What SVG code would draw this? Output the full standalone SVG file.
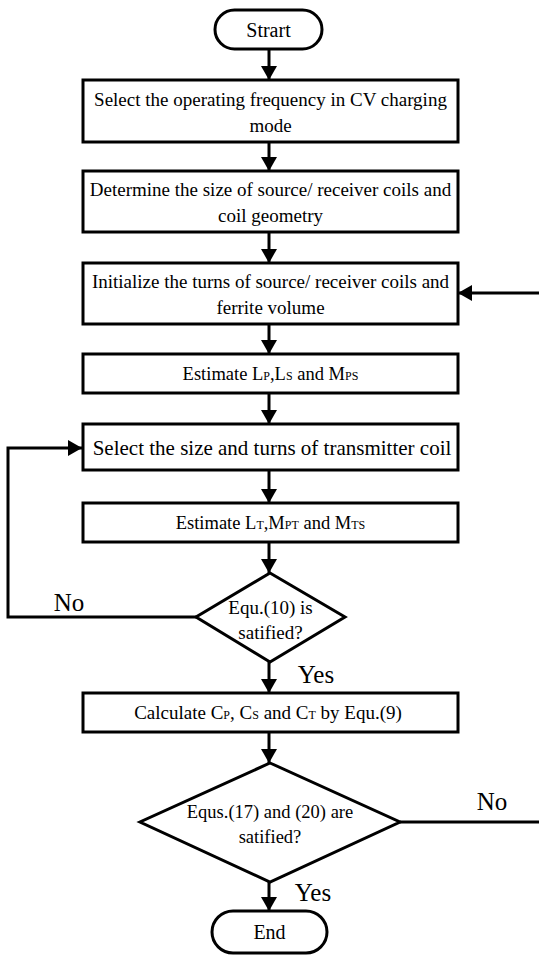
<svg xmlns="http://www.w3.org/2000/svg" width="539" height="956" viewBox="0 0 539 956">
<defs>
<marker id="ah" viewBox="0 0 14 16" refX="14" refY="8" markerWidth="14" markerHeight="16" markerUnits="userSpaceOnUse" orient="auto">
<path d="M0,0 L14,8 L0,16 Z" fill="#000"/>
</marker>
<style>
.b{fill:#fff;stroke:#000;stroke-width:3}
.c{fill:none;stroke:#000;stroke-width:3}
text{font-family:"Liberation Serif","Times New Roman",serif;fill:#000;text-anchor:middle}
.t19{font-size:19px}
.t18{font-size:18.5px}
.t20{font-size:20px}
.t21{font-size:21px}
.t25{font-size:25px}
.s{font-size:12px}
</style>
</defs>
<rect width="539" height="956" fill="#fff"/>
<g id="connectors">
<line class="c" x1="269" y1="49" x2="269" y2="80" marker-end="url(#ah)"/>
<line class="c" x1="269" y1="142" x2="269" y2="171" marker-end="url(#ah)"/>
<line class="c" x1="269" y1="232" x2="269" y2="263" marker-end="url(#ah)"/>
<line class="c" x1="539" y1="293" x2="458" y2="293" marker-end="url(#ah)"/>
<line class="c" x1="269" y1="324" x2="269" y2="354" marker-end="url(#ah)"/>
<line class="c" x1="269" y1="393" x2="269" y2="424" marker-end="url(#ah)"/>
<line class="c" x1="269" y1="470" x2="269" y2="503" marker-end="url(#ah)"/>
<line class="c" x1="269" y1="542" x2="269" y2="573" marker-end="url(#ah)"/>
<polyline class="c" points="196,617 8,617 8,448 82,448" marker-end="url(#ah)"/>
<line class="c" x1="269" y1="662" x2="269" y2="693" marker-end="url(#ah)"/>
<line class="c" x1="269" y1="732" x2="269" y2="763" marker-end="url(#ah)"/>
<line class="c" x1="400" y1="822" x2="539" y2="822"/>
<line class="c" x1="269" y1="882" x2="269" y2="911" marker-end="url(#ah)"/>
<text class="t25" x="69" y="611">No</text>
<text class="t25" x="316" y="683">Yes</text>
<text class="t25" x="492" y="810">No</text>
<text class="t25" x="313" y="901">Yes</text>
</g>
<g id="start">
<rect class="b" x="215" y="10" width="107" height="39" rx="19.5"/>
<text class="t20" x="268.5" y="36.5">Strart</text>
</g>
<g id="box1">
<rect class="b" x="83" y="80" width="375" height="62"/>
<text class="t19" x="270.5" y="106">Select the operating frequency in CV charging</text>
<text class="t19" x="270.5" y="132">mode</text>
</g>
<g id="box2">
<rect class="b" x="83" y="171" width="375" height="61"/>
<text class="t19" x="270.5" y="196">Determine the size of source/ receiver coils and</text>
<text class="t19" x="270.5" y="222">coil geometry</text>
</g>
<g id="box3">
<rect class="b" x="83" y="263" width="375" height="61"/>
<text class="t19" x="270.5" y="288">Initialize the turns of source/ receiver coils and</text>
<text class="t19" x="270.5" y="314">ferrite volume</text>
</g>
<g id="box4">
<rect class="b" x="83" y="354" width="375" height="39"/>
<text class="t18" x="270.5" y="380">Estimate L<tspan class="s">P</tspan>,L<tspan class="s">S</tspan> and M<tspan class="s">PS</tspan></text>
</g>
<g id="box5">
<rect class="b" x="83" y="424" width="375" height="46"/>
<text class="t21" x="272" y="455">Select the size and turns of transmitter coil</text>
</g>
<g id="box6">
<rect class="b" x="83" y="503" width="375" height="39"/>
<text class="t18" x="270.5" y="529">Estimate L<tspan class="s">T</tspan>,M<tspan class="s">PT</tspan> and M<tspan class="s">TS</tspan></text>
</g>
<g id="dec1">
<polygon class="b" points="270,573 345,617 270,662 196,617"/>
<text class="t19" x="270.5" y="614">Equ.(10) is</text>
<text class="t19" x="270.5" y="639">satified?</text>
</g>
<g id="box7">
<rect class="b" x="83" y="693" width="375" height="39"/>
<text class="t19" x="268" y="719">Calculate C<tspan class="s">P</tspan>, C<tspan class="s">S</tspan> and C<tspan class="s">T</tspan> by Equ.(9)</text>
</g>
<g id="dec2">
<polygon class="b" points="270,763 400,822 270,882 140,822"/>
<text class="t18" x="270" y="818">Equs.(17) and (20) are</text>
<text class="t18" x="270" y="843">satified?</text>
</g>
<g id="end">
<rect class="b" x="212" y="911" width="115" height="42" rx="21"/>
<text class="t20" x="269.5" y="939">End</text>
</g>
</svg>
